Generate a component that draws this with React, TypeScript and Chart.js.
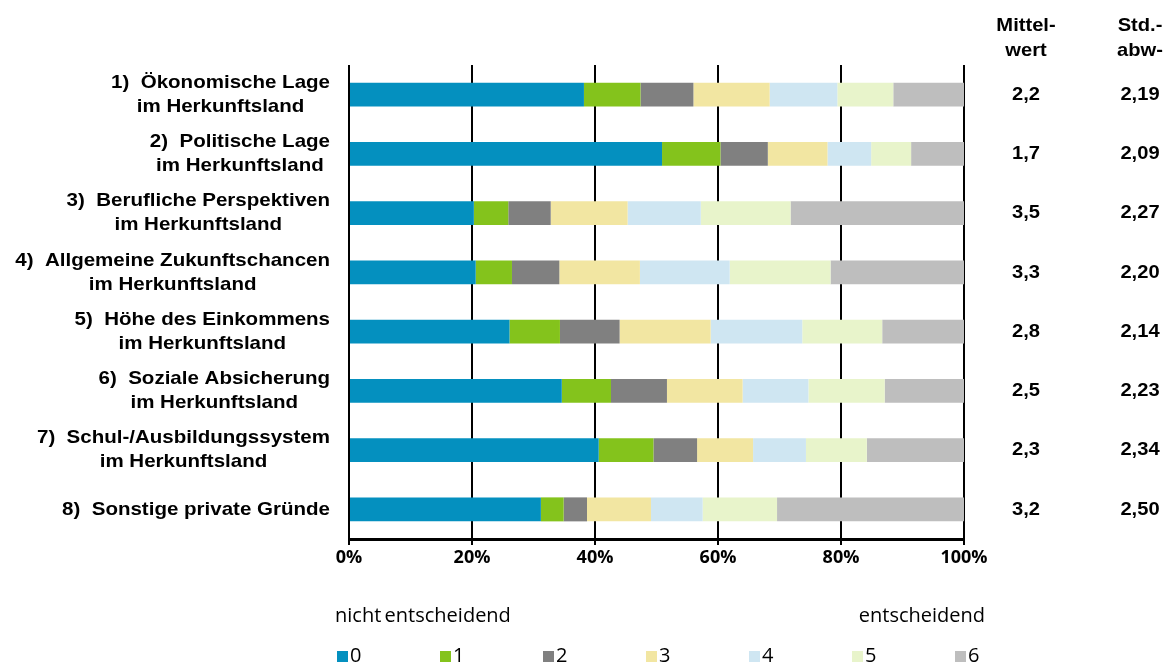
import React, { useEffect, useRef } from "react";
import { Chart, registerables } from "chart.js";

Chart.register(...registerables);

const categories: string[][] = [
  ["1)  Ökonomische Lage", "im Herkunftsland"],
  ["2)  Politische Lage", "im Herkunftsland"],
  ["3)  Berufliche Perspektiven", "im Herkunftsland"],
  ["4)  Allgemeine Zukunftschancen", "im Herkunftsland"],
  ["5)  Höhe des Einkommens", "im Herkunftsland"],
  ["6)  Soziale Absicherung", "im Herkunftsland"],
  ["7)  Schul-/Ausbildungssystem", "im Herkunftsland"],
  ["8)  Sonstige private Gründe"],
];

const levels = ["0", "1", "2", "3", "4", "5", "6"];
const colors = ["#0490BF", "#84C31C", "#808080", "#F2E6A2", "#CFE6F2", "#E8F4CB", "#BEBEBE"];

const s0 = [38.2, 50.9, 20.3, 20.6, 26.1, 34.6, 40.6, 31.2];
const s1 = [9.2, 9.5, 5.6, 5.9, 8.2, 8.0, 8.9, 3.7];
const s2 = [8.6, 7.7, 6.9, 7.7, 9.7, 9.1, 7.1, 3.8];
const s3 = [12.4, 9.7, 12.5, 13.1, 14.8, 12.3, 9.1, 10.4];
const s4 = [11.0, 7.1, 11.9, 14.6, 14.9, 10.7, 8.6, 8.4];
const s5 = [9.1, 6.5, 14.6, 16.4, 13.0, 12.4, 9.9, 12.1];
const s6 = [11.5, 8.6, 28.2, 21.7, 13.3, 12.9, 15.8, 30.4];

const means = [2.2, 1.7, 3.5, 3.3, 2.8, 2.5, 2.3, 3.2];
const stds = [2.19, 2.09, 2.27, 2.2, 2.14, 2.23, 2.34, 2.5];

const meanHeader = ["Mittel-", "wert"];
const stdHeader = ["Std.-", "abw-"];
const leftNote = "nicht\u2009entscheidend";
const rightNote = "entscheidend";
const tickValues = [0, 20, 40, 60, 80, 100];

const fmt = (v: number, d: number) => v.toFixed(d).replace(".", ",");

const LABEL_FONT = "bold 19px 'Liberation Sans', Arial, sans-serif";
const NOTE_FONT = "20px 'Open Sans', sans-serif";
const LABEL_STRETCH = 1.08;
const COL_STRETCH = 1.06;

function drawStretched(
  ctx: CanvasRenderingContext2D,
  text: string,
  x: number,
  y: number,
  align: "left" | "right" | "center",
  stretch: number
) {
  ctx.save();
  ctx.translate(x, y);
  ctx.scale(stretch, 1);
  ctx.textAlign = align;
  ctx.fillText(text, 0, 0);
  ctx.restore();
}

const overlayPlugin = {
  id: "overlay",
  afterDraw(chart: any) {
    const ctx: CanvasRenderingContext2D = chart.ctx;
    const yScale = chart.scales.y;
    const area = chart.chartArea;
    ctx.save();
    ctx.fillStyle = "#000";
    ctx.textBaseline = "middle";

    // category labels
    ctx.font = LABEL_FONT;
    const rightEdge = area.left - 19;
    const lh = 24;
    categories.forEach((lines, i) => {
      const yc = yScale.getPixelForValue(i);
      const widths = lines.map((l) => ctx.measureText(l).width * LABEL_STRETCH);
      const maxW = Math.max(...widths);
      const cx = rightEdge - maxW / 2;
      lines.forEach((l, j) => {
        const y = yc + (j - (lines.length - 1) / 2) * lh;
        drawStretched(ctx, l, cx, y, "center", LABEL_STRETCH);
      });
    });

    // mean & std columns
    const meanX = area.right + 62;
    const stdX = area.right + 176;
    meanHeader.forEach((t, j) => drawStretched(ctx, t, meanX, 26 + j * 25, "center", COL_STRETCH));
    stdHeader.forEach((t, j) => drawStretched(ctx, t, stdX, 26 + j * 25, "center", COL_STRETCH));
    means.forEach((m, i) => {
      const yc = yScale.getPixelForValue(i);
      drawStretched(ctx, fmt(m, 1), meanX, yc, "center", COL_STRETCH);
      drawStretched(ctx, fmt(stds[i], 2), stdX, yc, "center", COL_STRETCH);
    });

    // notes
    ctx.font = NOTE_FONT;
    ctx.textBaseline = "alphabetic";
    ctx.textAlign = "left";
    ctx.fillText(leftNote, area.left - 14, 622);
    ctx.textAlign = "right";
    ctx.fillText(rightNote, area.right + 21, 622);

    // legend
    const step = 103;
    levels.forEach((lv, i) => {
      const x0 = area.left - 12 + i * step;
      ctx.fillStyle = colors[i];
      ctx.fillRect(x0, 651, 11, 11);
      ctx.fillStyle = "#000";
      ctx.textAlign = "left";
      ctx.fillText(lv, x0 + 13, 662);
    });
    ctx.restore();
  },
};

export default function App() {
  const ref = useRef<HTMLCanvasElement | null>(null);
  useEffect(() => {
    if (!ref.current) return;
    const seriesData = [s0, s1, s2, s3, s4, s5, s6];
    const chart = new Chart(ref.current, {
      type: "bar",
      data: {
        labels: categories.map((c) => c.join(" ")),
        datasets: levels.map((lv, i) => ({
          label: lv,
          data: seriesData[i],
          backgroundColor: colors[i],
          borderWidth: 0,
          categoryPercentage: 1,
          barPercentage: 0.405,
        })),
      },
      options: {
        indexAxis: "y",
        animation: false,
        responsive: true,
        maintainAspectRatio: false,
        layout: { padding: { left: 349, right: 202, top: 65, bottom: 85 } },
        plugins: { legend: { display: false }, tooltip: { enabled: false } },
        scales: {
          x: {
            stacked: true,
            min: 0,
            max: 100,
            afterFit: (scale: any) => {
              scale.height = 40;
            },
            afterBuildTicks: (scale: any) => {
              scale.ticks = tickValues.map((v) => ({ value: v }));
            },
            ticks: {
              callback: (v: any) => v + "%",
              color: "#000",
              padding: 2,
              maxRotation: 0,
              font: { family: "'Open Sans', sans-serif", weight: "bold", size: 18 },
            },
            grid: { color: "#000", lineWidth: 2, tickLength: 6, tickColor: "#000", tickWidth: 2 },
            border: { display: true, color: "#000", width: 3 },
          },
          y: { stacked: true, display: false },
        },
      },
      plugins: [overlayPlugin],
    } as any);
    return () => chart.destroy();
  }, []);
  return (
    <div style={{ position: "fixed", left: 0, top: 0, width: 1166, height: 664, background: "#fff" }}>
      <canvas ref={ref} />
    </div>
  );
}
